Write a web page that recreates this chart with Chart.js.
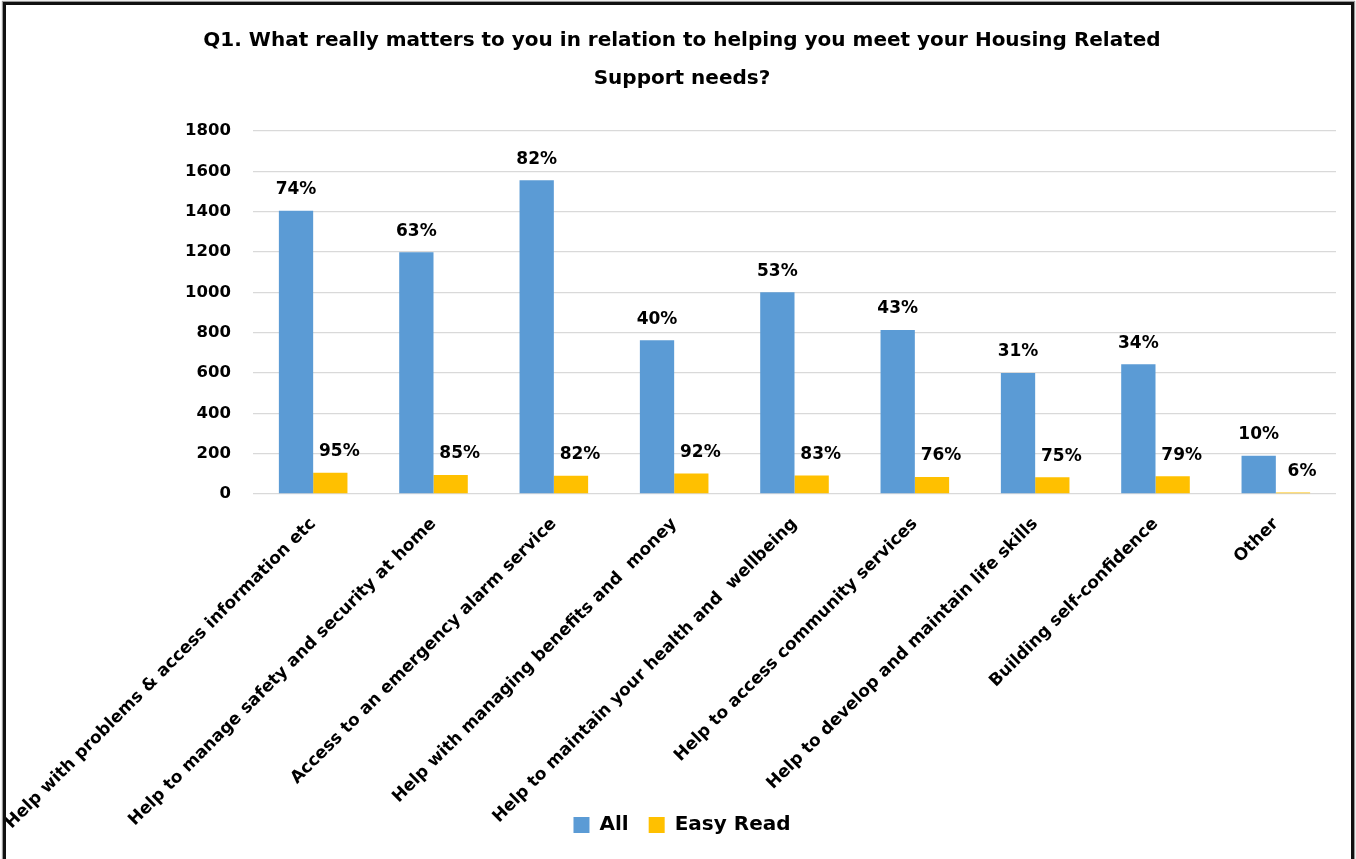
<!DOCTYPE html>
<html>
<head>
<meta charset="utf-8">
<title>Q1 Housing Related Support</title>
<script src="https://cdn.jsdelivr.net/npm/chart.js@4/dist/chart.umd.min.js"></script>
<style>
  html, body { margin: 0; padding: 0; background: #fff; }
  #wrap { position: relative; width: 1356px; height: 859px; overflow: hidden; }
  #c { position: absolute; left: 0; top: 0; }
  #frame {
    position: absolute; left: 3px; top: 2px; width: 1345px; height: 900px;
    border: 3px solid #111; border-bottom: none;
    box-shadow: 0 0 1px 1px #999;
    pointer-events: none;
  }
</style>
</head>
<body>
<div id="wrap">
  <canvas id="c" width="1356" height="859"></canvas>
  <div id="frame"></div>
</div>
<script>
// Survey answers (categories) and response counts per group
const categories = [
  'Help with problems & access information etc',
  'Help to manage safety and security at home',
  'Access to an emergency alarm service',
  'Help with managing benefits and  money',
  'Help to maintain your health and  wellbeing',
  'Help to access community services',
  'Help to develop and maintain life skills',
  'Building self-confidence',
  'Other'
];
const allCounts      = [1404, 1199, 1556, 763, 1001, 813, 600, 644, 190];
const easyReadCounts = [105, 94, 91, 102, 92, 84, 83, 88, 7];
const allPct         = ['74%', '63%', '82%', '40%', '53%', '43%', '31%', '34%', '10%'];
const easyReadPct    = ['95%', '85%', '82%', '92%', '83%', '76%', '75%', '79%', '6%'];
const yTicks         = [0, 200, 400, 600, 800, 1000, 1200, 1400, 1600, 1800];
const titleLines     = [
  'Q1. What really matters to you in relation to helping you meet your Housing Related',
  'Support needs?'
];

const FONT = '"DejaVu Sans", sans-serif';

// Percentage labels written above every bar
const pctLabels = {
  id: 'pctLabels',
  afterDatasetsDraw(chart) {
    const ctx = chart.ctx;
    ctx.save();
    ctx.font = 'bold 17px ' + FONT;
    ctx.fillStyle = '#000';
    ctx.textAlign = 'center';
    ctx.textBaseline = 'middle';
    chart.data.datasets.forEach((ds, i) => {
      const meta = chart.getDatasetMeta(i);
      const shift = i === 1 ? 9 : 0;
      meta.data.forEach((bar, j) => {
        ctx.fillText(ds.pct[j], bar.x + shift, bar.y - 21);
      });
    });
    ctx.restore();
  }
};

function draw() {
  new Chart(document.getElementById('c'), {
    type: 'bar',
    data: {
      labels: categories,
      datasets: [
        { label: 'All', data: allCounts, pct: allPct, backgroundColor: '#5B9BD5' },
        { label: 'Easy Read', data: easyReadCounts, pct: easyReadPct, backgroundColor: '#FFC000' }
      ]
    },
    options: {
      responsive: false,
      animation: false,
      devicePixelRatio: 1,
      layout: { padding: { left: 8, right: 0, top: 0, bottom: 14 } },
      datasets: { bar: { categoryPercentage: 0.57, barPercentage: 1 } },
      scales: {
        x: {
          grid: { display: false },
          border: { display: false },
          ticks: {
            autoSkip: false,
            minRotation: 45,
            maxRotation: 45,
            padding: 12,
            color: '#000',
            font: { family: FONT, size: 17, weight: 'bold' }
          },
          afterFit(s) {
            // fixed band for the slanted category names; they may run past it
            s.height = 301;
            s.paddingLeft = 0;
            s.paddingRight = 20;
            s._computeLabelArea = () => null;
          }
        },
        y: {
          min: 0,
          max: 1800,
          afterBuildTicks(s) { s.ticks = yTicks.map(v => ({ value: v })); },
          grid: { color: '#d9d9d9', lineWidth: 1.3, drawTicks: false },
          border: { display: false },
          ticks: {
            padding: 22,
            color: '#000',
            font: { family: FONT, size: 16.5, weight: 'bold' },
            callback: v => String(v)
          },
          afterFit(s) { s.width = 245; }
        }
      },
      plugins: {
        title: {
          display: true,
          text: titleLines,
          color: '#000',
          font: { family: FONT, size: 20, weight: 'bold', lineHeight: 38 / 20 },
          padding: { top: 22, bottom: 33 }
        },
        legend: {
          position: 'bottom',
          labels: {
            boxWidth: 16,
            boxHeight: 16,
            padding: 20,
            color: '#000',
            font: { family: FONT, size: 20, weight: 'bold' }
          }
        },
        tooltip: { enabled: false }
      }
    },
    plugins: [pctLabels]
  });
}

Promise.all([
  document.fonts.load('bold 20px "DejaVu Sans"'),
  document.fonts.load('bold 16px "DejaVu Sans"')
]).then(draw, draw);
</script>
</body>
</html>
